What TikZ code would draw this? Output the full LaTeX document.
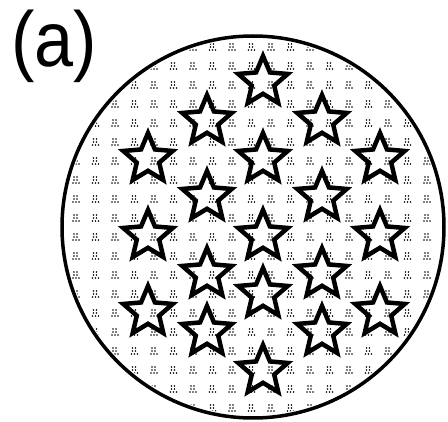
\documentclass[tikz,border=0pt]{standalone}
\usepackage{fontspec}
\setmainfont{Liberation Sans}
\begin{document}
\begin{tikzpicture}[x=1pt,y=-1pt,
  starline/.style={line width=4.5pt, line join=miter, black},
  rim/.style={line width=3.5pt, black},
  pics/mystar/.style={code={
    \draw[starline] (90:-26) -- (126:-11.8) -- (162:-26) -- (198:-11.8) -- (234:-26) -- (270:-11.8)
      -- (306:-26) -- (342:-11.8) -- (18:-26) -- (54:-11.8) -- cycle;
  }}]
\useasboundingbox (0,0) rectangle (448,422);
\fill[white] (0,0) rectangle (448,422);
\node[font=\fontsize{78}{82}\selectfont, inner sep=0pt, xscale=0.9] (lbl) at (54,46) {(a)};
\coordinate (c) at (253,227);
\begin{scope}
  \clip (c) circle (188);
  \fill[black] \foreach \i in {0,...,20} { \foreach \j in {0,...,20} {
     ({54.5+19.5*\i},{25+19*\j}) circle (0.95)
     ({57.5+19.5*\i},{25+19*\j}) circle (0.95)
     ({54.5+19.5*\i},{28+19*\j}) circle (0.95)
     ({57.5+19.5*\i},{28+19*\j}) circle (0.95)
     ({53.5+19.5*\i},{31+19*\j}) circle (0.95)
     ({56.5+19.5*\i},{31+19*\j}) circle (0.95)
     ({59.5+19.5*\i},{31+19*\j}) circle (0.95)
  }};
\end{scope}
\draw[rim] (c) circle (191);
\foreach \p in {(263,82),(207,121),(322,121),(148,159),(263,159),(380,159),
  (207,197),(322,197),(148,236),(263,236),(380,236),(207,274),(322,274),
  (263,294),(148,312),(380,312),(207,332),(322,332),(263,371)}
  \pic at \p {mystar};
\end{tikzpicture}
\end{document}
